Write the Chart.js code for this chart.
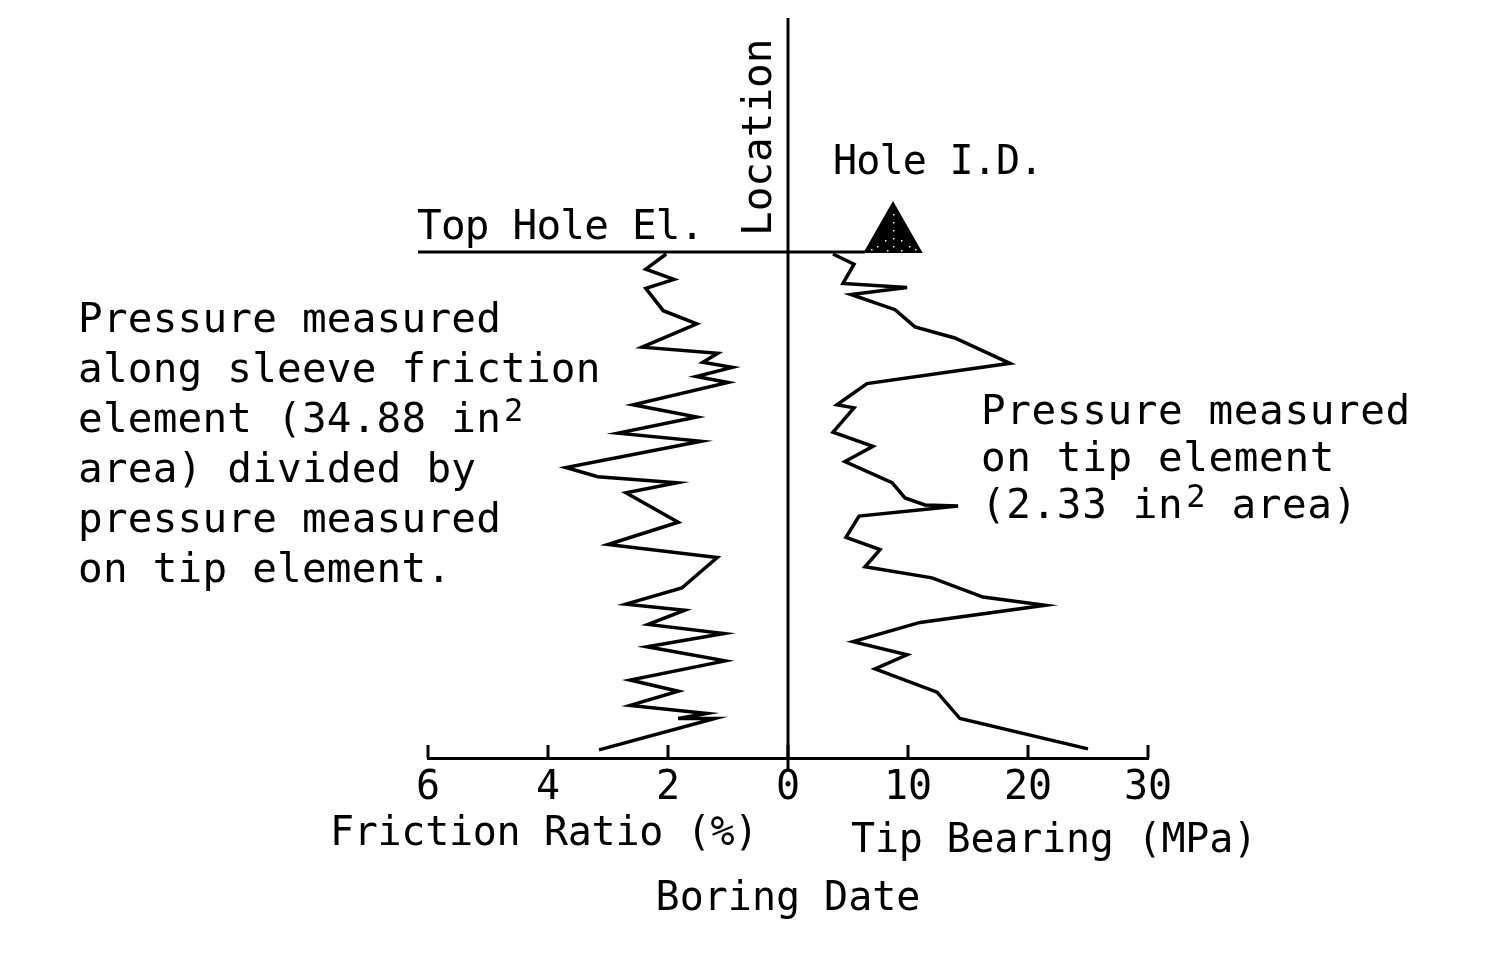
<!DOCTYPE html>
<html>
<head>
<meta charset="utf-8">
<script src="https://cdn.jsdelivr.net/npm/chart.js@4.4.1/dist/chart.umd.min.js"></script>
<style>
  body { margin: 0; background: #fff; }
  #wrap { position: relative; width: 1487px; height: 971px; overflow: hidden; }
  #chart-box { position: absolute; left: 0; top: 0; width: 1487px; height: 971px; }
  .lbl { position: absolute; font-family: 'DejaVu Sans Mono', monospace; color: #000; white-space: pre; }
  .lbl .sq { font-size: 32px; position: relative; top: -11px; margin-left: 3px; }
</style>
</head>
<body>
<div id="wrap">
  <div id="chart-box"><canvas id="cptChart"></canvas></div>
</div>
<script>
// depth below top of hole (arbitrary units, 0 = top hole elevation)
const frDepth = [0.2, 1.7, 2.7, 3.6, 5.8, 7.1, 9.4, 10.0, 10.9, 11.4, 12.3, 12.9, 15.1, 16.3, 17.9, 18.7,
  21.3, 22.2, 22.8, 23.8, 26.7, 28.9, 30.2, 33.2, 34.8, 35.4, 36.8, 37.7, 39.0, 40.4, 42.3, 43.4,
  44.8, 45.6, 46.1, 46.1, 49.2];
// friction ratio (%)
const frValues = [2.03, 2.37, 1.90, 2.37, 2.08, 1.52, 2.43, 1.17, 1.42, 0.93, 1.53, 1.00, 2.58, 1.52, 2.83, 1.45,
  3.70, 3.17, 1.85, 2.70, 1.83, 3.00, 1.18, 1.77, 2.70, 1.72, 2.33, 1.07, 2.35, 1.05, 2.63, 1.83,
  2.63, 1.35, 1.83, 1.22, 3.15];

const tbDepth = [0.2, 1.2, 3.1, 3.5, 4.2, 5.7, 7.4, 8.5, 11.0, 13.0, 15.1, 15.4, 17.8, 19.2, 20.7, 22.8,
  24.3, 25.0, 25.1, 26.1, 28.2, 29.4, 31.1, 32.2, 34.1, 34.9, 36.6, 38.5, 39.8, 41.2, 43.5, 46.1, 49.1];
// tip bearing (MPa)
const tbValues = [3.75, 5.5, 4.58, 9.92, 5.25, 8.92, 10.58, 13.9, 18.5, 6.58, 4.08, 5.5, 3.75, 7.08, 4.75, 8.67,
  9.75, 11.42, 14.17, 5.92, 4.83, 7.67, 6.42, 12.0, 16.25, 21.42, 11.0, 5.42, 9.92, 7.25, 12.42, 14.33, 25.0];

const frTicks = [6, 4, 2, 0];
const tbTicks = [10, 20, 30];
const frMax = 6;
const tbMax = 30;
const depthMax = 50;
const holeMarkTB = 8.75; // where the hole I.D. triangle sits on the tip bearing scale

const FONT = "'DejaVu Sans Mono', monospace";
const ratio = tbMax / frMax;

// upward tick marks, location line, top hole line and the hole triangle
const logFrame = {
  id: 'logFrame',
  afterDraw(chart) {
    const { ctx, chartArea } = chart;
    const xs = chart.scales.x;
    const x0 = xs.getPixelForValue(0);
    ctx.save();
    ctx.strokeStyle = '#000';
    ctx.lineWidth = 3;
    ctx.lineCap = 'butt';

    ctx.beginPath();
    xs.ticks.forEach((t) => {
      const px = xs.getPixelForValue(t.value);
      ctx.moveTo(px, chartArea.bottom);
      ctx.lineTo(px, chartArea.bottom - 13);
    });
    ctx.stroke();

    // location line
    ctx.beginPath();
    ctx.moveTo(x0, 18);
    ctx.lineTo(x0, chartArea.bottom + 13);
    ctx.stroke();

    // top hole line
    const triX = xs.getPixelForValue(holeMarkTB);
    const half = 28;
    ctx.beginPath();
    ctx.moveTo(chartArea.left - 10, chartArea.top);
    ctx.lineTo(triX - half, chartArea.top);
    ctx.stroke();

    // triangle
    ctx.beginPath();
    ctx.moveTo(triX - half, chartArea.top);
    ctx.lineTo(triX + half, chartArea.top);
    ctx.lineTo(triX, chartArea.top - 49);
    ctx.closePath();
    ctx.fillStyle = '#000';
    ctx.fill();
    ctx.lineWidth = 2;
    ctx.stroke();
    ctx.fillStyle = '#fff';
    [[0, -38], [0, -30], [0, -22], [0, -14], [-8, -12], [8, -12], [0, -6], [-16, -6], [16, -6], [-22, -3], [22, -3], [-6, -2], [8, -2]].forEach(([dx, dy]) => {
      ctx.fillRect(triX + dx, chartArea.top + dy, 1.5, 1.5);
    });
    ctx.restore();
  },
};

const ctx = document.getElementById('cptChart').getContext('2d');
const cptChart = new Chart(ctx, {
  type: 'scatter',
  data: {
    datasets: [
      {
        label: 'Friction Ratio',
        data: frValues.map((v, i) => ({ x: v, y: frDepth[i] })),
        xAxisID: 'xf',
        showLine: true,
        borderColor: '#000',
        borderWidth: 3.5,
        pointRadius: 0,
        tension: 0,
      },
      {
        label: 'Tip Bearing',
        data: tbValues.map((v, i) => ({ x: v, y: tbDepth[i] })),
        xAxisID: 'x',
        showLine: true,
        borderColor: '#000',
        borderWidth: 3.5,
        pointRadius: 0,
        tension: 0,
      },
    ],
  },
  options: {
    responsive: true,
    maintainAspectRatio: false,
    animation: false,
    layout: { padding: { left: 428, right: 339, top: 252, bottom: 0 } },
    plugins: { legend: { display: false }, tooltip: { enabled: false } },
    scales: {
      x: {
        type: 'linear',
        position: 'bottom',
        min: -tbMax,
        max: tbMax,
        afterBuildTicks(scale) {
          const left = frTicks.filter((v) => v > 0).map((v) => ({ value: -v * ratio }));
          scale.ticks = left.concat([{ value: 0 }], tbTicks.map((v) => ({ value: v })));
        },
        afterFit(scale) {
          scale.height = 213;
        },
        grid: { display: false, drawTicks: false },
        border: { display: true, color: '#000', width: 3 },
        ticks: {
          padding: 7,
          color: '#000',
          maxRotation: 0,
          autoSkip: false,
          font: { family: FONT, size: 40 },
          callback(value) {
            return value < 0 ? String(-value / ratio) : String(value);
          },
        },
      },
      xf: {
        type: 'linear',
        display: false,
        reverse: true,
        min: -frMax,
        max: frMax,
      },
      y: {
        type: 'linear',
        display: false,
        reverse: true,
        min: 0,
        max: depthMax,
      },
    },
  },
  plugins: [logFrame],
});

// annotation text
const wrap = document.getElementById('wrap');
function place(html, x, baseline, size, extra) {
  const el = document.createElement('div');
  el.className = 'lbl';
  el.innerHTML = html;
  el.style.fontSize = size + 'px';
  el.style.lineHeight = size + 'px';
  el.style.left = x + 'px';
  el.style.top = (baseline - 0.846 * size) + 'px';
  Object.assign(el.style, extra || {});
  wrap.appendChild(el);
  return el;
}

const leftNote = [
  'Pressure measured',
  'along sleeve friction',
  'element (34.88 in<span class="sq">2</span>',
  'area) divided by',
  'pressure measured',
  'on tip element.',
];
leftNote.forEach((t, i) => place(t, 78, 333 + i * 50, 41, { letterSpacing: '0.2px' }));

const rightNote = [
  'Pressure measured',
  'on tip element',
  '(2.33 in<span class="sq">2</span> area)',
];
rightNote.forEach((t, i) => place(t, 981, 425 + i * 47, 41, { letterSpacing: '0.6px' }));

place('Top Hole El.', 417, 240, 41, { letterSpacing: '-0.8px' });
place('Hole I.D.', 833, 174, 40, { letterSpacing: '-0.8px' });
place('Friction Ratio (%)', 330, 845, 40, { letterSpacing: '-0.3px' });
place('Tip Bearing (MPa)', 851, 852, 40, { letterSpacing: '-0.2px' });
place('Boring Date', 788, 910, 40, { transform: 'translateX(-50%)' });

// rotated location label: baseline on the right side, reads bottom to top
const loc = document.createElement('div');
loc.className = 'lbl';
loc.textContent = 'Location';
loc.style.fontSize = '41px';
loc.style.lineHeight = '41px';
loc.style.left = (772 - 0.846 * 41) + 'px';
loc.style.top = '236px';
loc.style.transformOrigin = '0 0';
loc.style.transform = 'rotate(-90deg)';
wrap.appendChild(loc);
</script>
</body>
</html>
